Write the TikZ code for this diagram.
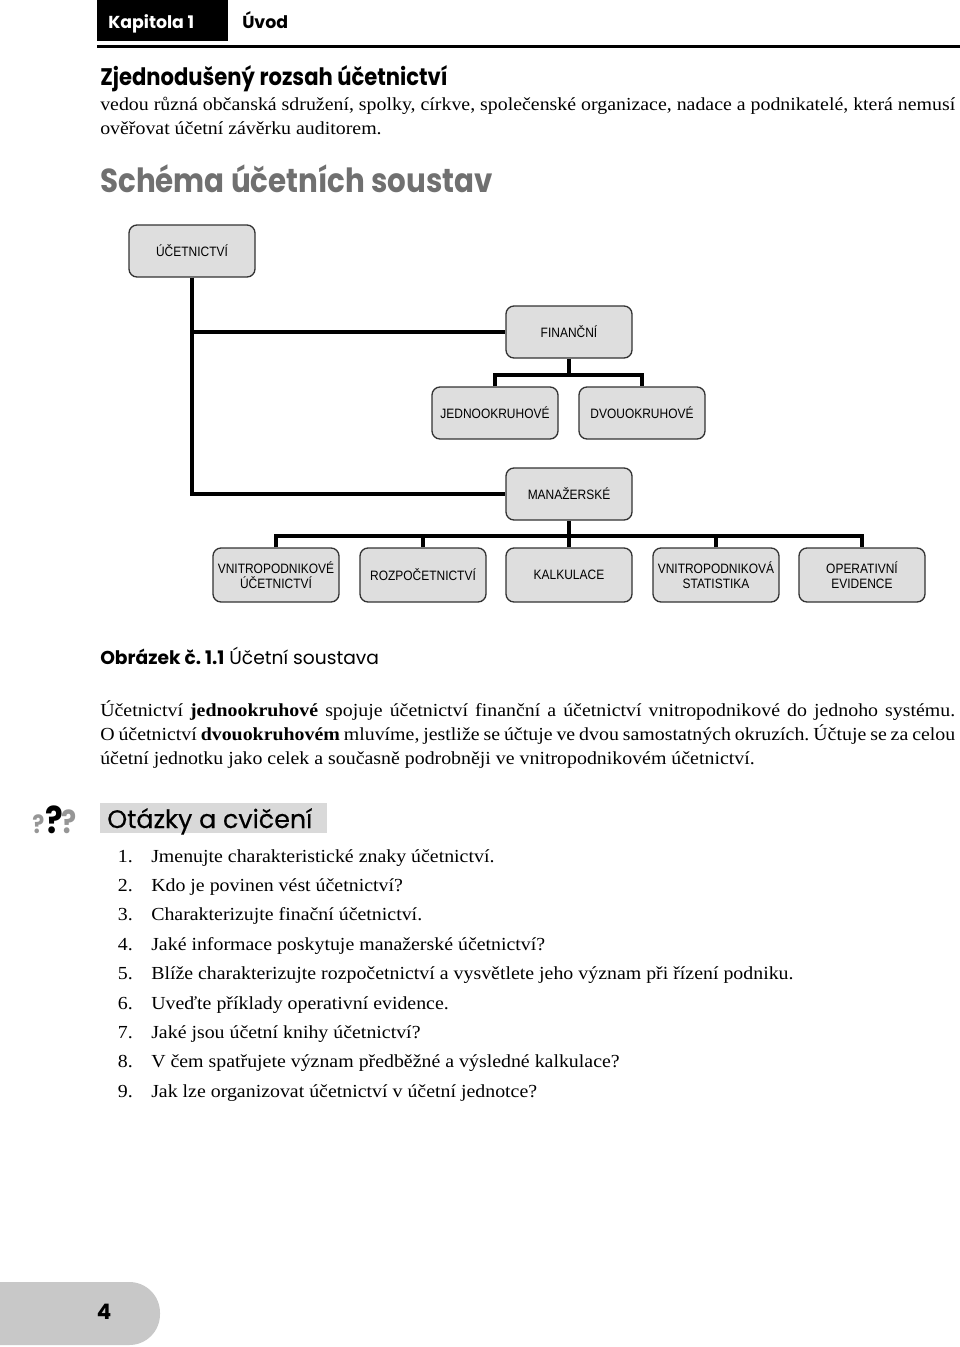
\documentclass[tikz,border=0pt]{standalone}
\usepackage{fontspec}
\setmainfont[FakeStretch=1.08]{Liberation Serif}
\newfontfamily\futura{Poppins}
\newfontfamily\futuranar[FakeStretch=0.88]{Poppins}
\newfontfamily\futuramed[FakeBold=0.4]{Poppins}
\newfontfamily\arialf[FakeStretch=0.88]{Liberation Sans}
\definecolor{boxgray}{RGB}{222,222,222}
\definecolor{headgray}{RGB}{112,112,112}
\definecolor{tabgray}{RGB}{200,200,200}
\definecolor{qgray}{RGB}{150,150,150}
\frenchspacing

\begin{document}
\begin{tikzpicture}[x=0.75pt, y=-0.75pt,
    box/.style={draw=black!80, line width=1pt, fill=boxgray, rounded corners=6pt,
      minimum width=94.5pt, minimum height=39pt, inner sep=1pt, align=center,
      font=\arialf\fontsize{10.2}{11.5}\selectfont},
    wire/.style={line width=3pt},
    txt/.style={anchor=base west, inner sep=0pt, font=\fontsize{13.8}{15}\selectfont},
    head/.style={anchor=base west, inner sep=0pt}]
  \useasboundingbox (0,0) rectangle (960,1347);
  % page header
  \fill[black] (97,0) rectangle (228,41);
  \draw[line width=2.25pt] (97,46) -- (960,46);
  \node[head, text=white, font=\futura\bfseries\fontsize{13}{15}\selectfont] (kap) at (108,28) {Kapitola 1};
  \node[head, font=\futura\bfseries\fontsize{13}{15}\selectfont] (uvod) at (242,28) {Úvod};
  % intro
  \node[head, font=\futuranar\bfseries\fontsize{18}{20}\selectfont] (zjed) at (100,85) {Zjednodušený rozsah účetnictví};
  \node[txt] (intro1) at (100,110) {\makebox[641.25pt][s]{vedou různá občanská sdružení, spolky, církve, společenské organizace, nadace a podnikatelé, která nemusí}};
  \node[txt] (intro2) at (100,134) {ověřovat účetní závěrku auditorem.};
  \node[head, text=headgray, font=\futuranar\bfseries\fontsize{25}{28}\selectfont] (schema) at (100,192) {Schéma účetních soustav};

  % diagram
  \node[box] (ucet) at (192,251) {ÚČETNICTVÍ};
  \node[box] (fin) at (569,332) {FINANČNÍ};
  \node[box] (jedno) at (495,413) {JEDNOOKRUHOVÉ};
  \node[box] (dvou) at (642,413) {DVOUOKRUHOVÉ};
  \node[box] (man) at (569,494) {MANAŽERSKÉ};
  \node[box, minimum height=40.5pt] (vu) at (276,575) {VNITROPODNIKOVÉ\\ÚČETNICTVÍ};
  \node[box, minimum height=40.5pt] (rozp) at (423,575) {ROZPOČETNICTVÍ};
  \node[box, minimum height=40.5pt] (kalk) at (569,575) {KALKULACE};
  \node[box, minimum height=40.5pt] (stat) at (716,575) {VNITROPODNIKOVÁ\\STATISTIKA};
  \node[box, minimum height=40.5pt] (oe) at (862,575) {OPERATIVNÍ\\EVIDENCE};
  \coordinate (fb) at (569,375);
  \coordinate (mb) at (569,536);
  \begin{scope}[wire]
    \draw (ucet.south) |- (fin.west);
    \draw (ucet.south) |- (man.west);
    \draw (fin.south) -- (fb);
    \draw (jedno.north) |- (fb) -| (dvou.north);
    \draw (man.south) -- (mb);
    \draw (vu.north) |- (mb) -| (oe.north);
    \foreach \b in {rozp,kalk,stat}
      \draw (\b.north) -- (\b.north |- mb);
  \end{scope}

  % caption and text
  \node[head, font=\futura\fontsize{14}{16}\selectfont] (capt) at (100,664) {{\bfseries Obrázek č. 1.1} Účetní soustava};
  \node[txt] (par1) at (100,716) {\makebox[641.25pt][s]{Účetnictví \textbf{jednookruhové} spojuje účetnictví finanční a účetnictví vnitropodnikové do jednoho systému.}};
  \node[txt] (par2) at (100,740) {\makebox[641.25pt][s]{O účetnictví \textbf{dvouokruhovém} mluvíme, jestliže se účtuje ve dvou samostatných okruzích. Účtuje se za celou}};
  \node[txt] (par3) at (100,764) {účetní jednotku jako celek a současně podrobněji ve vnitropodnikovém účetnictví.};

  % questions
  \node[head, text=qgray, font=\futuranar\bfseries\fontsize{19}{20}\selectfont] (qa) at (32,833) {?};
  \node[head, font=\futuranar\bfseries\fontsize{28}{30}\selectfont] (qb) at (45,833) {?};
  \node[head, text=qgray, font=\futuranar\bfseries\fontsize{24}{26}\selectfont] (qc) at (61,833) {?};
  \fill[black!15] (100,803) rectangle (327,833);
  \node[head, font=\futuramed\fontsize{19}{21}\selectfont] (otaz) at (107,828) {Otázky a cvičení};
  \foreach \q [count=\i] in {Jmenujte charakteristické znaky účetnictví.,
      Kdo je povinen vést účetnictví?,
      Charakterizujte finační účetnictví.,
      Jaké informace poskytuje manažerské účetnictví?,
      Blíže charakterizujte rozpočetnictví a vysvětlete jeho význam při řízení podniku.,
      Uveďte příklady operativní evidence.,
      Jaké jsou účetní knihy účetnictví?,
      V čem spatřujete význam předběžné a výsledné kalkulace?,
      Jak lze organizovat účetnictví v účetní jednotce?}
  {
    \node[txt, anchor=base east] (n\i) at (133,{862+(\i-1)*29.4}) {\i.};
    \node[txt] (q\i) at (151,{862+(\i-1)*29.4}) {\q};
  }

  % page number
  \fill[tabgray, rounded corners=23pt] (-40,1282) rectangle (160,1345);
  \node[font=\futura\bfseries\fontsize{16}{18}\selectfont] (page) at (104,1312) {4};
\end{tikzpicture}
\end{document}
